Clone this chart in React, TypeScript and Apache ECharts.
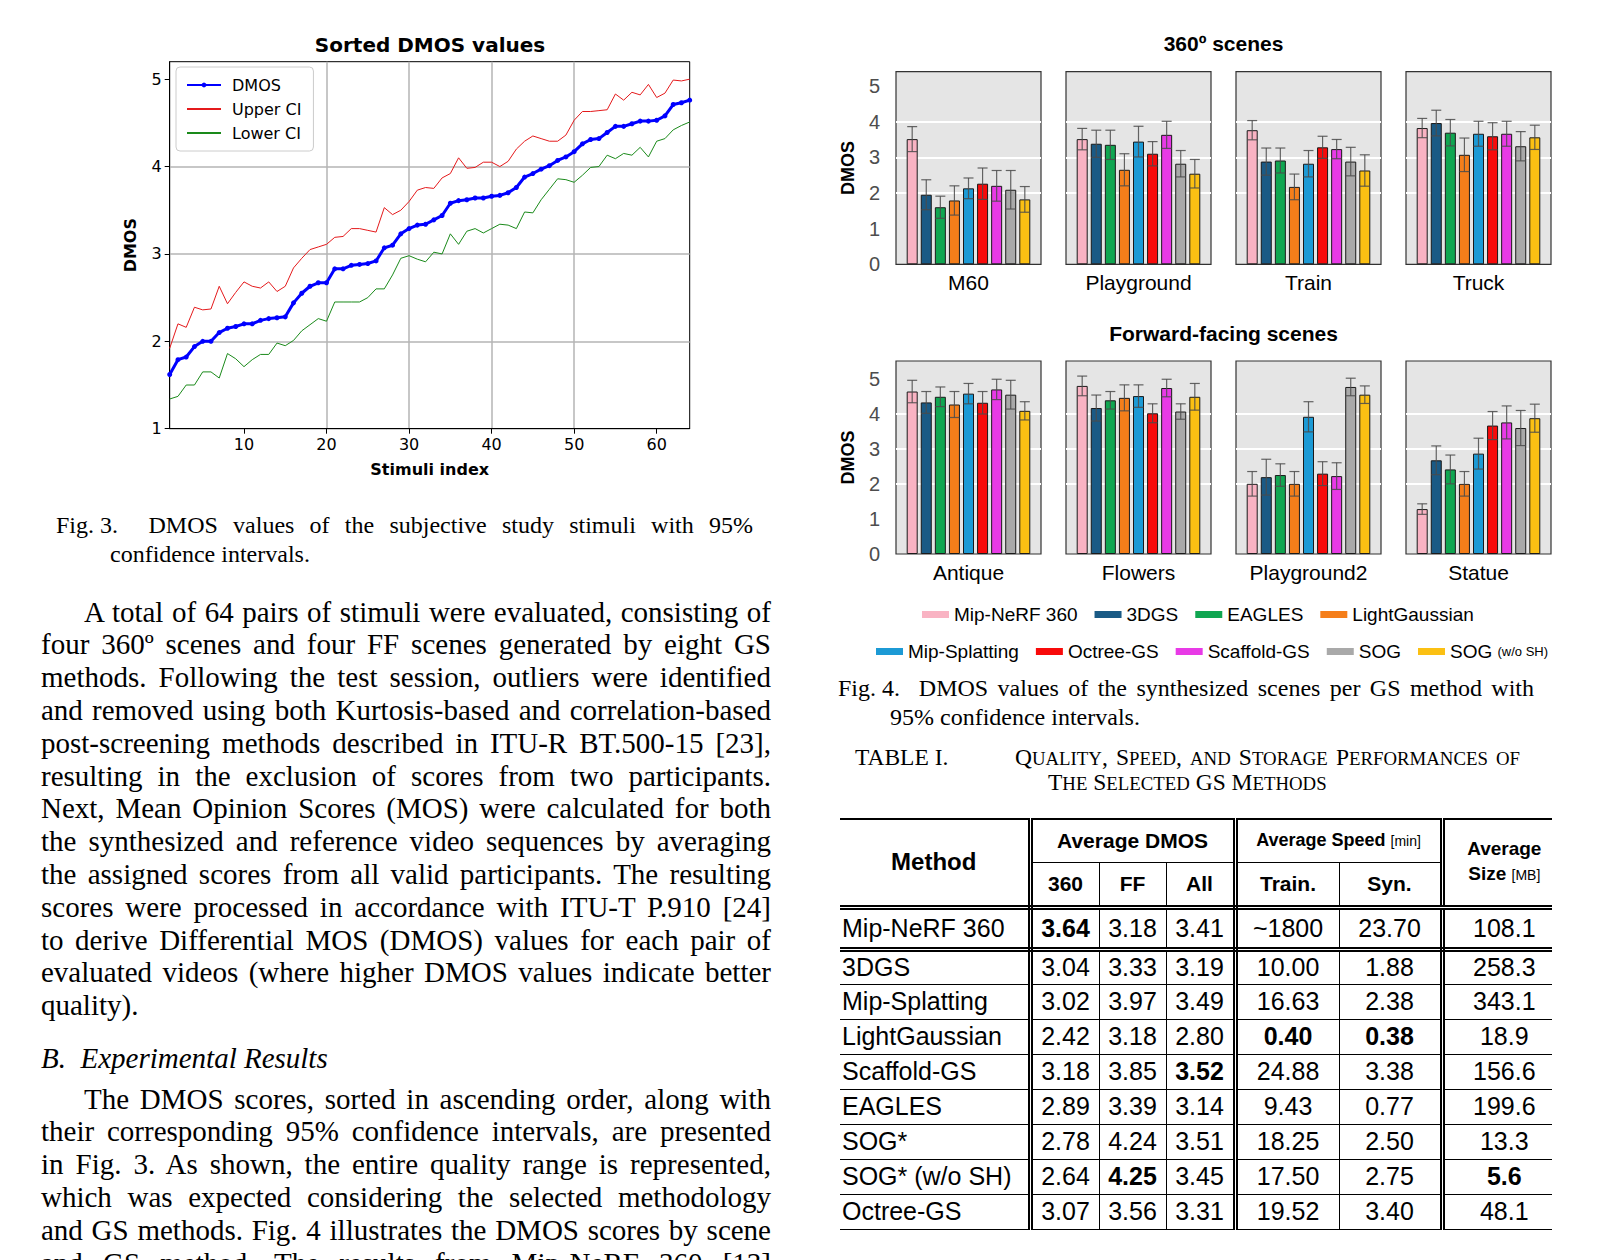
import React, { useEffect, useRef } from 'react';
import * as echarts from 'echarts';

// ---------- Fig. 3 data ----------
const xTickValues = [10, 20, 30, 40, 50, 60];
const yTickValues = [1, 2, 3, 4, 5];
const dmosSorted = [1.62, 1.79, 1.82, 1.94, 2.00, 2.00, 2.10, 2.15, 2.17, 2.20, 2.20, 2.24, 2.26, 2.27, 2.28, 2.44, 2.55, 2.63, 2.67, 2.67, 2.83, 2.83, 2.87, 2.88, 2.89, 2.92, 3.07, 3.10, 3.23, 3.29, 3.33, 3.34, 3.39, 3.44, 3.58, 3.61, 3.62, 3.64, 3.64, 3.66, 3.67, 3.70, 3.76, 3.88, 3.92, 3.97, 4.01, 4.07, 4.11, 4.17, 4.26, 4.31, 4.32, 4.39, 4.46, 4.46, 4.49, 4.52, 4.52, 4.53, 4.58, 4.71, 4.73, 4.76];
const upperCI = [1.92, 2.20, 2.16, 2.39, 2.36, 2.37, 2.63, 2.43, 2.56, 2.68, 2.63, 2.61, 2.68, 2.57, 2.63, 2.84, 2.95, 3.05, 3.08, 3.11, 3.19, 3.20, 3.29, 3.29, 3.27, 3.25, 3.53, 3.45, 3.50, 3.60, 3.73, 3.76, 3.75, 3.87, 3.92, 4.10, 3.98, 3.99, 4.05, 4.05, 4.00, 4.06, 4.20, 4.29, 4.35, 4.32, 4.29, 4.29, 4.36, 4.53, 4.63, 4.63, 4.64, 4.65, 4.83, 4.76, 4.85, 4.82, 4.94, 4.79, 4.84, 4.99, 4.98, 5.00];
const lowerCI = [1.34, 1.37, 1.50, 1.50, 1.65, 1.65, 1.58, 1.86, 1.80, 1.71, 1.79, 1.85, 1.85, 1.98, 1.95, 2.01, 2.12, 2.19, 2.26, 2.23, 2.45, 2.45, 2.45, 2.45, 2.50, 2.60, 2.60, 2.76, 2.95, 2.98, 2.94, 2.91, 3.02, 3.00, 3.23, 3.11, 3.26, 3.29, 3.24, 3.29, 3.34, 3.33, 3.29, 3.48, 3.47, 3.62, 3.74, 3.86, 3.85, 3.82, 3.90, 3.99, 4.00, 4.13, 4.09, 4.15, 4.13, 4.22, 4.11, 4.29, 4.32, 4.42, 4.47, 4.51];

// ---------- Fig. 4 data ----------
const methods = ['Mip-NeRF 360', '3DGS', 'EAGLES', 'LightGaussian', 'Mip-Splatting', 'Octree-GS', 'Scaffold-GS', 'SOG', 'SOG (w/o SH)'];
const methodColors = ['#F9B3C3', '#1A5A85', '#10A651', '#F57E1A', '#1C9AD5', '#F80A0A', '#E83AE6', '#A9A9A9', '#FBC013'];
const scenes = ['M60', 'Playground', 'Train', 'Truck', 'Antique', 'Flowers', 'Playground2', 'Statue'];
const dmosM60 = [3.51, 1.95, 1.60, 1.79, 2.13, 2.26, 2.20, 2.09, 1.82];
const ciM60 = [0.35, 0.42, 0.31, 0.41, 0.29, 0.44, 0.43, 0.54, 0.36];
const dmosPlayground = [3.51, 3.38, 3.35, 2.65, 3.44, 3.10, 3.63, 2.82, 2.54];
const ciPlayground = [0.30, 0.38, 0.41, 0.45, 0.43, 0.34, 0.38, 0.37, 0.40];
const dmosTrain = [3.76, 2.88, 2.91, 2.17, 2.82, 3.28, 3.23, 2.88, 2.63];
const ciTrain = [0.27, 0.38, 0.35, 0.36, 0.37, 0.31, 0.27, 0.40, 0.44];
const dmosTruck = [3.82, 3.96, 3.69, 3.07, 3.66, 3.59, 3.66, 3.31, 3.56];
const ciTruck = [0.27, 0.36, 0.37, 0.47, 0.35, 0.38, 0.35, 0.41, 0.34];
const dmosAntique = [4.63, 4.32, 4.48, 4.26, 4.57, 4.31, 4.69, 4.54, 4.08];
const ciAntique = [0.32, 0.31, 0.28, 0.37, 0.29, 0.32, 0.29, 0.41, 0.26];
const dmosFlowers = [4.79, 4.16, 4.38, 4.45, 4.50, 4.01, 4.73, 4.06, 4.48];
const ciFlowers = [0.28, 0.37, 0.25, 0.37, 0.32, 0.27, 0.25, 0.22, 0.38];
const dmosPlayground2 = [2.00, 2.19, 2.25, 2.00, 3.91, 2.29, 2.22, 4.76, 4.54];
const ciPlayground2 = [0.35, 0.51, 0.32, 0.35, 0.43, 0.34, 0.38, 0.25, 0.25];
const dmosStatue = [1.28, 2.67, 2.41, 2.00, 2.86, 3.66, 3.75, 3.59, 3.87];
const ciStatue = [0.15, 0.41, 0.41, 0.35, 0.44, 0.40, 0.47, 0.50, 0.40];
const sceneDmos = [dmosM60, dmosPlayground, dmosTrain, dmosTruck, dmosAntique, dmosFlowers, dmosPlayground2, dmosStatue];
const sceneCI = [ciM60, ciPlayground, ciTrain, ciTruck, ciAntique, ciFlowers, ciPlayground2, ciStatue];
const panelYTicks = [0, 1, 2, 3, 4, 5];

// ---------- Table I data ----------
const tableMethods = ['Mip-NeRF 360', '3DGS', 'Mip-Splatting', 'LightGaussian', 'Scaffold-GS', 'EAGLES', 'SOG*', 'SOG* (w/o SH)', 'Octree-GS'];
const avg360 = ['3.64', '3.04', '3.02', '2.42', '3.18', '2.89', '2.78', '2.64', '3.07'];
const avgFF = ['3.18', '3.33', '3.97', '3.18', '3.85', '3.39', '4.24', '4.25', '3.56'];
const avgAll = ['3.41', '3.19', '3.49', '2.80', '3.52', '3.14', '3.51', '3.45', '3.31'];
const speedTrain = ['~1800', '10.00', '16.63', '0.40', '24.88', '9.43', '18.25', '17.50', '19.52'];
const speedSyn = ['23.70', '1.88', '2.38', '0.38', '3.38', '0.77', '2.50', '2.75', '3.40'];
const avgSize = ['108.1', '258.3', '343.1', '18.9', '156.6', '199.6', '13.3', '5.6', '48.1'];
const boldCells = ['0-1', '3-4', '3-5', '4-3', '7-2', '7-6'];

// ---------- text ----------
const para1 = [
  'A total of 64 pairs of stimuli were evaluated, consisting of',
  'four 360º scenes and four FF scenes generated by eight GS',
  'methods. Following the test session, outliers were identified',
  'and removed using both Kurtosis-based and correlation-based',
  'post-screening methods described in ITU-R BT.500-15 [23],',
  'resulting in the exclusion of scores from two participants.',
  'Next, Mean Opinion Scores (MOS) were calculated for both',
  'the synthesized and reference video sequences by averaging',
  'the assigned scores from all valid participants. The resulting',
  'scores were processed in accordance with ITU-T P.910 [24]',
  'to derive Differential MOS (DMOS) values for each pair of',
  'evaluated videos (where higher DMOS values indicate better',
  'quality).',
];
const para2 = [
  'The DMOS scores, sorted in ascending order, along with',
  'their corresponding 95% confidence intervals, are presented',
  'in Fig. 3. As shown, the entire quality range is represented,',
  'which was expected considering the selected methodology',
  'and GS methods. Fig. 4 illustrates the DMOS scores by scene',
  'and GS method. The results from Mip-NeRF 360 [13]',
];

const SANS = '"Liberation Sans", Arial, Helvetica, sans-serif';
const DEJAVU = '"DejaVu Sans", sans-serif';
const SERIF = '"Liberation Serif", "Times New Roman", Times, serif';

const panelLeft = [896, 1066, 1236, 1406];
const rowTop = [71.7, 361];
const rowHeight = [192.6, 193];
const rowMax = [5.4, 5.5];

function buildOption(): any {
  const grid: any[] = [
    { left: 169.7, top: 61.7, width: 520, height: 367, show: true, borderColor: '#000', borderWidth: 1, backgroundColor: '#fff' },
  ];
  const xAxis: any[] = [
    {
      type: 'value', gridIndex: 0, min: 1, max: 64, minInterval: 10, maxInterval: 10,
      axisLine: { show: true, lineStyle: { color: '#000', width: 1 } },
      axisTick: { show: true, inside: false, length: 5, customValues: xTickValues, lineStyle: { color: '#000' } },
      axisLabel: { customValues: xTickValues, fontFamily: DEJAVU, fontSize: 16, color: '#000', margin: 8 },
      splitLine: { show: true, showMinLine: false, showMaxLine: false, lineStyle: { color: '#b4b4b4', width: 1.5 } },
      name: 'Stimuli index', nameLocation: 'middle', nameGap: 33,
      nameTextStyle: { fontFamily: DEJAVU, fontSize: 16, fontWeight: 'bold', color: '#000' },
    },
  ];
  const yAxis: any[] = [
    {
      type: 'value', gridIndex: 0, min: 1, max: 5.2, interval: 1,
      axisLine: { show: true, lineStyle: { color: '#000', width: 1 } },
      axisTick: { show: true, inside: false, length: 5, customValues: yTickValues, lineStyle: { color: '#000' } },
      axisLabel: { customValues: yTickValues, fontFamily: DEJAVU, fontSize: 16, color: '#000', margin: 8 },
      splitLine: { show: true, showMinLine: false, showMaxLine: false, lineStyle: { color: '#b4b4b4', width: 1.5 } },
      name: 'DMOS', nameLocation: 'middle', nameGap: 31, nameRotate: 90,
      nameTextStyle: { fontFamily: DEJAVU, fontSize: 16, fontWeight: 'bold', color: '#000' },
    },
  ];
  const series: any[] = [
    {
      name: 'DMOS', type: 'line', xAxisIndex: 0, yAxisIndex: 0,
      data: dmosSorted.map((v, i) => [i + 1, v]),
      color: '#0000ff', lineStyle: { width: 3, color: '#0000ff' },
      symbol: 'circle', symbolSize: 5, showSymbol: true, itemStyle: { color: '#0000ff' }, z: 4,
    },
    {
      name: 'Upper CI', type: 'line', xAxisIndex: 0, yAxisIndex: 0,
      data: upperCI.map((v, i) => [i + 1, v]),
      color: '#e41a1c', lineStyle: { width: 1, color: '#e41a1c' }, symbol: 'none', showSymbol: false, z: 3,
    },
    {
      name: 'Lower CI', type: 'line', xAxisIndex: 0, yAxisIndex: 0,
      data: lowerCI.map((v, i) => [i + 1, v]),
      color: '#1a8a1a', lineStyle: { width: 1, color: '#1a8a1a' }, symbol: 'none', showSymbol: false, z: 3,
    },
  ];

  scenes.forEach((scene, p) => {
    const row = p < 4 ? 0 : 1;
    const col = p % 4;
    const gi = p + 1;
    grid.push({
      left: panelLeft[col], top: rowTop[row], width: 145, height: rowHeight[row],
      show: true, backgroundColor: '#e5e5e5', borderColor: '#333', borderWidth: 1.2,
    });
    xAxis.push({
      type: 'value', gridIndex: gi, min: -1.15, max: 9.15,
      axisLine: { show: false }, axisTick: { show: false }, axisLabel: { show: false }, splitLine: { show: false },
      name: scene, nameLocation: 'middle', nameGap: 8,
      nameTextStyle: { fontFamily: SANS, fontSize: 21, color: '#000' },
    });
    yAxis.push({
      type: 'value', gridIndex: gi, min: 0, max: rowMax[row], interval: 1,
      axisLine: { show: false },
      axisTick: { show: false, customValues: [1, 2, 3, 4, 5] },
      axisLabel: { show: col === 0, customValues: panelYTicks, fontFamily: SANS, fontSize: 20, color: '#4d4d4d', margin: 16 },
      splitLine: { show: true, showMinLine: false, showMaxLine: false, lineStyle: { color: '#ffffff', width: 2 } },
      name: col === 0 ? 'DMOS' : '', nameLocation: 'middle', nameGap: 39, nameRotate: 90,
      nameTextStyle: { fontFamily: SANS, fontSize: 18, fontWeight: 'bold', color: '#000' },
    });
    const vals = sceneDmos[p];
    const cis = sceneCI[p];
    series.push({
      type: 'bar', name: 'bars-' + scene, xAxisIndex: gi, yAxisIndex: gi, barWidth: 11,
      data: vals.map((v, k) => ({ value: [k, v], itemStyle: { color: methodColors[k] } })),
      itemStyle: { borderColor: '#1a1a1a', borderWidth: 1 }, z: 2,
    });
    series.push({
      type: 'custom', name: 'err-' + scene, xAxisIndex: gi, yAxisIndex: gi,
      data: vals.map((v, k) => [k, v - cis[k], v + cis[k]]),
      encode: { x: 0, y: [1, 2] }, z: 5,
      renderItem: (params: any, api: any) => {
        const x = api.value(0);
        const top = api.coord([x, api.value(2)]);
        const bot = api.coord([x, api.value(1)]);
        const hw = 5;
        const style = { stroke: 'rgba(75,75,75,0.85)', lineWidth: 1.2, fill: 'none' };
        return {
          type: 'group',
          children: [
            { type: 'line', shape: { x1: top[0], y1: top[1], x2: bot[0], y2: bot[1] }, style },
            { type: 'line', shape: { x1: top[0] - hw, y1: top[1], x2: top[0] + hw, y2: top[1] }, style },
            { type: 'line', shape: { x1: bot[0] - hw, y1: bot[1], x2: bot[0] + hw, y2: bot[1] }, style },
          ],
        };
      },
    });
  });

  // hidden grid for legend-only series
  grid.push({ left: -60, top: -60, width: 10, height: 10, show: false });
  xAxis.push({ type: 'category', gridIndex: 9, data: ['x'], show: false });
  yAxis.push({ type: 'value', gridIndex: 9, show: false });
  methods.forEach((m, k) => {
    series.push({ type: 'bar', name: m, xAxisIndex: 9, yAxisIndex: 9, data: [], itemStyle: { color: methodColors[k] } });
  });

  const barLegendCommon = {
    orient: 'horizontal', icon: 'rect', itemWidth: 27, itemHeight: 7, itemGap: 17, padding: 0, selectedMode: false,
    formatter: (name: string) => (name === 'SOG (w/o SH)' ? 'SOG {s|(w/o SH)}' : name),
    textStyle: { fontFamily: SANS, fontSize: 19, color: '#000', rich: { s: { fontFamily: SANS, fontSize: 13, color: '#000' } } },
  };

  return {
    animation: false,
    backgroundColor: 'transparent',
    title: [
      { text: 'Sorted DMOS values', left: 430, top: 35, textAlign: 'center', padding: 0, textStyle: { fontFamily: DEJAVU, fontSize: 20, fontWeight: 'bold', color: '#000' } },
      { text: '360º scenes', left: 1223.5, top: 33, textAlign: 'center', padding: 0, textStyle: { fontFamily: SANS, fontSize: 21, fontWeight: 'bold', color: '#000' } },
      { text: 'Forward-facing scenes', left: 1223.5, top: 323, textAlign: 'center', padding: 0, textStyle: { fontFamily: SANS, fontSize: 21, fontWeight: 'bold', color: '#000' } },
    ],
    legend: [
      {
        data: [
          { name: 'DMOS' },
          { name: 'Upper CI', itemStyle: { opacity: 0 } },
          { name: 'Lower CI', itemStyle: { opacity: 0 } },
        ],
        orient: 'vertical', left: 176, top: 67, itemWidth: 34, itemHeight: 6, itemGap: 8,
        padding: [10, 12, 10, 10], borderColor: '#cccccc', borderWidth: 1, borderRadius: 4, backgroundColor: 'rgba(255,255,255,0.85)',
        selectedMode: false, textStyle: { fontFamily: DEJAVU, fontSize: 16, color: '#000', padding: [0, 0, 0, 6] },
      },
      { ...barLegendCommon, data: methods.slice(0, 4), left: 922, top: 605 },
      { ...barLegendCommon, data: methods.slice(4), left: 876, top: 642 },
    ],
    grid, xAxis, yAxis, series,
  };
}

function Chart() {
  const ref = useRef<HTMLDivElement>(null);
  useEffect(() => {
    if (!ref.current) return;
    const chart = echarts.init(ref.current, undefined, { renderer: 'svg' });
    chart.setOption(buildOption());
    return () => chart.dispose();
  }, []);
  return <div ref={ref} style={{ position: 'absolute', left: 0, top: 0, width: 1607, height: 1260 }} />;
}

function TextLine(props: { left: number; top: number; width: number; size: number; lh: number; justify?: boolean; italic?: boolean; children?: any }) {
  const { left, top, width, size, lh, justify, italic, children } = props;
  return (
    <div
      style={{
        position: 'absolute', left, top, width, fontFamily: SERIF, fontSize: size, lineHeight: lh + 'px', color: '#000',
        textAlign: justify ? 'justify' : 'left', textAlignLast: justify ? 'justify' : 'left',
        fontStyle: italic ? 'italic' : 'normal', whiteSpace: 'normal',
      } as any}
    >
      {children}
    </div>
  );
}

// Small caps: capitals in full size, lower-case letters as smaller capitals
function SmallCaps(props: { text: string; size: number }) {
  const { text, size } = props;
  const parts: { s: string; small: boolean }[] = [];
  for (const ch of text) {
    const small = ch !== ch.toUpperCase();
    const last = parts[parts.length - 1];
    if (last && last.small === small) last.s += ch;
    else parts.push({ s: ch, small });
  }
  return (
    <>
      {parts.map((p, i) => (
        <span key={i} style={{ fontSize: p.small ? size * 0.8 : size }}>{p.small ? p.s.toUpperCase() : p.s}</span>
      ))}
    </>
  );
}

function Table() {
  const colW = [190, 69, 67, 69, 104, 103, 132];
  const B = '1.5px solid #000';
  const D = '5px double #000';
  const thBase: any = { fontFamily: SANS, fontWeight: 'bold', padding: 0, textAlign: 'center', verticalAlign: 'middle', color: '#000' };
  const small: any = { fontWeight: 'normal', fontSize: 14 };
  const columns = [tableMethods, avg360, avgFF, avgAll, speedTrain, speedSyn, avgSize];
  return (
    <>
      <div style={{ position: 'absolute', left: 840, top: 818, width: 760, height: 420 }}>
        <table style={{ borderCollapse: 'collapse', tableLayout: 'fixed', width: 734, minWidth: 734 }}>
          <colgroup>
            {colW.map((w, i) => <col key={i} style={{ width: w }} />)}
          </colgroup>
          <thead>
            <tr style={{ height: 43 }}>
              <th rowSpan={2} style={{ ...thBase, fontSize: 24, borderTop: '2.5px solid #000', borderLeft: 'none', borderRight: D, borderBottom: D }}>Method</th>
              <th colSpan={3} style={{ ...thBase, fontSize: 21, borderTop: '2.5px solid #000', borderRight: D, borderBottom: B }}>Average DMOS</th>
              <th colSpan={2} style={{ ...thBase, fontSize: 18, borderTop: '2.5px solid #000', borderRight: D, borderBottom: B }}>Average Speed <span style={small}>[min]</span></th>
              <th rowSpan={2} style={{ ...thBase, fontSize: 19, lineHeight: '25px', paddingRight: 10, borderTop: '2.5px solid #000', borderRight: 'none', borderBottom: D }}>Average<br />Size <span style={small}>[MB]</span></th>
            </tr>
            <tr style={{ height: 45 }}>
              <th style={{ ...thBase, fontSize: 21, borderRight: B, borderBottom: D }}>360</th>
              <th style={{ ...thBase, fontSize: 21, borderRight: B, borderBottom: D }}>FF</th>
              <th style={{ ...thBase, fontSize: 21, borderRight: D, borderBottom: D }}>All</th>
              <th style={{ ...thBase, fontSize: 21, borderRight: B, borderBottom: D }}>Train.</th>
              <th style={{ ...thBase, fontSize: 21, borderRight: D, borderBottom: D }}>Syn.</th>
            </tr>
          </thead>
          <tbody>
            {tableMethods.map((_, ri) => (
              <tr key={ri} style={{ height: ri === 0 ? 42 : 35 }}>
                {columns.map((col, ci) => (
                  <td
                    key={ci}
                    style={{
                      fontFamily: SANS, fontSize: 25, color: '#000', padding: 0, paddingLeft: ci === 0 ? 2 : 0,
                      paddingRight: ci === 6 ? 10 : 0,
                      textAlign: ci === 0 ? 'left' : 'center', verticalAlign: 'middle', whiteSpace: 'nowrap',
                      fontWeight: boldCells.indexOf(ri + '-' + ci) >= 0 ? 'bold' : 'normal',
                      borderLeft: ci === 0 ? 'none' : undefined,
                      borderRight: ci === 6 ? 'none' : (ci === 0 || ci === 3 || ci === 5 ? D : B),
                      borderBottom: ri === 0 ? D : B,
                      borderTop: ri === 0 ? D : B,
                    }}
                  >
                    {col[ri]}
                  </td>
                ))}
              </tr>
            ))}
          </tbody>
        </table>
      </div>
      {/* page edge: the table runs off the right side of the page */}
      <div style={{ position: 'absolute', left: 1552, top: 800, width: 60, height: 460, background: '#fff' }} />
    </>
  );
}

export default function App() {
  const pTop1 = 595.5;
  const pTop2 = 1082.5;
  const lh = 32.8;
  const figLabel: any = { display: 'inline-block' };
  return (
    <div style={{ position: 'absolute', left: 0, top: 0, width: 1607, height: 1260, background: '#fff', overflow: 'hidden' }}>
      <Chart />
      {/* Fig. 3 caption */}
      <TextLine left={56} top={511} width={697} size={24} lh={28.5} justify>
        <span style={figLabel}>Fig. 3.</span>{'\u00a0\u00a0DMOS values of the subjective study stimuli with 95%'}
      </TextLine>
      <TextLine left={110} top={539.5} width={640} size={24} lh={28.5}>confidence intervals.</TextLine>
      {/* paragraph 1 */}
      {para1.map((t, i) => (
        <TextLine key={'a' + i} left={i === 0 ? 84 : 41} top={pTop1 + i * lh} width={i === 0 ? 687 : 730} size={29} lh={lh} justify={i < para1.length - 1}>{t}</TextLine>
      ))}
      <TextLine left={41} top={1041.5} width={730} size={29} lh={lh} italic>{'B.\u00a0\u00a0Experimental Results'}</TextLine>
      {para2.map((t, i) => (
        <TextLine key={'b' + i} left={i === 0 ? 84 : 41} top={pTop2 + i * lh} width={i === 0 ? 687 : 730} size={29} lh={lh} justify>{t}</TextLine>
      ))}
      {/* Fig. 4 caption */}
      <TextLine left={838} top={674} width={696} size={24} lh={28.5} justify>
        <span style={figLabel}>Fig. 4.</span>{'\u00a0\u00a0DMOS values of the synthesized scenes per GS method with'}
      </TextLine>
      <TextLine left={890} top={702.5} width={640} size={24} lh={28.5}>95% confidence intervals.</TextLine>
      {/* Table caption */}
      <TextLine left={855} top={745} width={150} size={23.5} lh={24.6}>TABLE I.</TextLine>
      <TextLine left={1015} top={745} width={505} size={23.5} lh={24.6} justify>
        <SmallCaps text={'Quality, Speed, and Storage Performances of'} size={23.5} />
      </TextLine>
      <TextLine left={1048} top={769.6} width={480} size={23.5} lh={24.6}>
        <SmallCaps text={'The Selected GS Methods'} size={23.5} />
      </TextLine>
      <Table />
    </div>
  );
}
